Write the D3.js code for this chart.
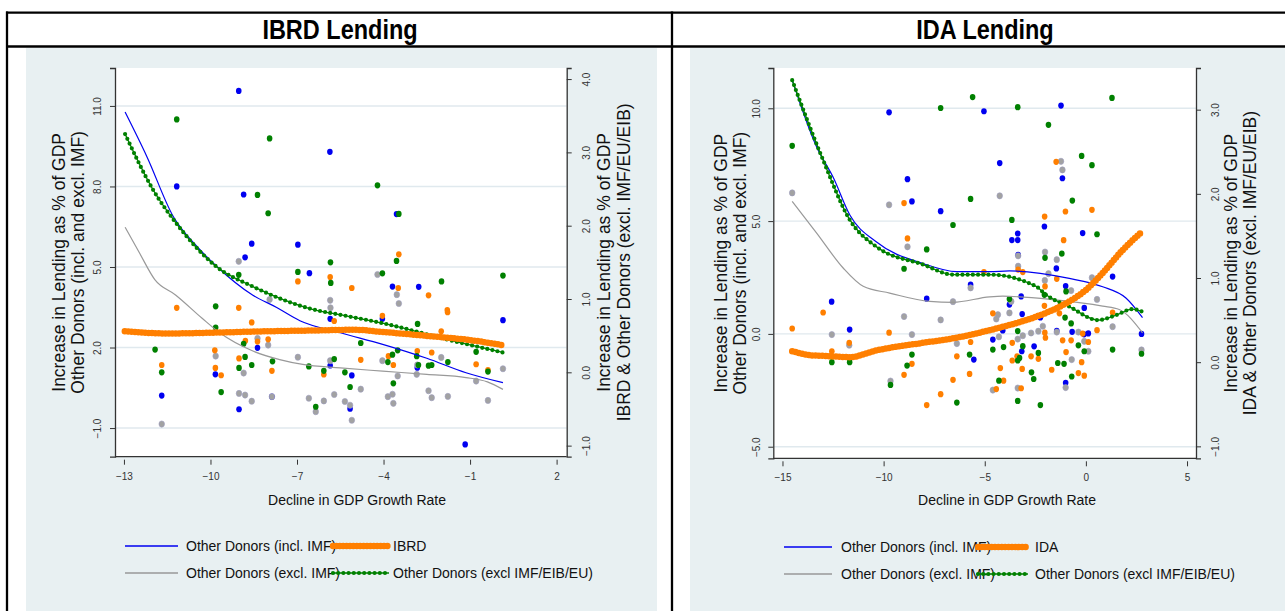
<!DOCTYPE html>
<html><head><meta charset="utf-8">
<script src="https://cdn.jsdelivr.net/npm/d3@7"></script>
<style>
body{margin:0;background:#fff;}
svg{display:block;font-family:"Liberation Sans",Arial,sans-serif;}
</style></head><body>
<svg id="c" width="1285" height="611"></svg>
<script>
// ---------------- DATA ----------------
const panelTitles = ["IBRD Lending", "IDA Lending"];
const xAxisTitle = "Decline in GDP Growth Rate";
const leftAxisTitle = ["Increase in Lending as % of GDP", "Other Donors (incl. and excl. IMF)"];
const ibrdRightTitle = ["Increase in Lending as % of GDP", "IBRD & Other Donors (excl. IMF/EU/EIB)"];
const idaRightTitle = ["Increase in Lending as % of GDP", "IDA & Other Donors (excl. IMF/EU/EIB)"];
const ibrdLegend = ["Other Donors (incl. IMF)", "IBRD", "Other Donors (excl. IMF)", "Other Donors (excl IMF/EIB/EU)"];
const idaLegend = ["Other Donors (incl. IMF)", "IDA", "Other Donors (excl. IMF)", "Other Donors (excl IMF/EIB/EU)"];

const ibrdXTicks = [-13, -10, -7, -4, -1, 2];
const ibrdYLTicks = [-1, 2, 5, 8, 11];
const ibrdYRTicks = [-1, 0, 1, 2, 3, 4];
const idaXTicks = [-15, -10, -5, 0, 5];
const idaYLTicks = [-5, 0, 5, 10];
const idaYRTicks = [-1, 0, 1, 2, 3];

// IBRD panel scatter (x = decline in GDP growth, y = lending % GDP)
const ibrdInclPts = [[-9.02,11.56],[-11.17,8.0],[-8.85,7.70],[-8.57,5.87],[-6.97,5.83],[-8.80,5.36],[-6.57,4.77],[-5.86,9.29],[-3.55,6.97],[-3.69,4.27],[-2.78,4.26],[-5.85,3.07],[-4.04,3.07],[0.14,3.02],[-8.37,1.99],[-9.83,1.0],[-11.69,0.21],[-7.87,0.17],[-9.01,-0.30],[-5.16,-0.28],[-5.10,0.96],[-5.85,1.33],[-2.83,1.25],[-1.17,-1.61]];
const ibrdExclPts = [[-9.02,5.21],[-7.95,3.79],[-4.21,4.72],[-3.54,3.97],[-5.85,3.76],[-3.47,3.64],[-5.84,3.48],[-8.37,2.34],[-8.0,2.09],[-9.82,1.68],[-6.97,1.64],[-8.85,1.05],[-9.01,0.29],[-8.80,0.23],[-7.87,0.17],[-6.59,0.11],[-8.57,0.0],[-11.69,-0.85],[-6.35,-0.39],[-2.0,1.63],[-4.04,1.51],[-5.85,1.51],[-2.83,1.35],[0.14,1.21],[-3.51,0.94],[-2.85,1.0],[-0.79,0.75],[-4.79,0.45],[-2.44,0.39],[-5.71,0.25],[-3.85,0.17],[-3.69,0.26],[-2.33,0.13],[-1.77,0.18],[-6.07,0.01],[-5.34,-0.01],[-0.38,0.03],[-3.66,-0.08],[-5.16,-0.15],[-5.10,-0.71]];
const ibrdOwnPts = [[-6.97,1.24],[-11.17,0.88],[-9.02,0.88],[-3.47,1.61],[-5.85,1.30],[-5.10,1.15],[-3.49,1.15],[-2.44,1.05],[-1.79,0.85],[-8.57,0.68],[-8.79,0.43],[-8.37,0.42],[-8.0,0.45],[-9.85,0.30],[-9.01,0.19],[-11.69,0.10],[-9.83,0.06],[-7.87,0.02],[-9.63,-0.04],[-5.71,0.70],[-4.04,0.77],[-1.78,0.82],[-2.0,0.56],[-2.83,0.29],[-2.33,0.27],[-3.83,0.22],[-4.79,0.17],[-3.66,0.10],[-0.79,0.11],[-0.38,0.03],[-6.07,-0.03]];
const ibrdExclEUPts = [[-11.17,3.45],[-7.95,3.19],[-8.37,2.42],[-8.0,2.17],[-9.02,1.33],[-6.97,1.37],[-9.82,0.90],[-4.21,2.55],[-3.47,2.16],[-5.84,1.50],[-3.55,1.52],[-4.04,1.35],[0.14,1.32],[-5.83,1.22],[-1.99,1.24],[-9.82,0.61],[-8.85,0.39],[-11.92,0.31],[-8.80,0.21],[-7.85,0.15],[-8.57,0.10],[-9.01,0.06],[-6.59,0.08],[-11.69,0.0],[-9.63,-0.27],[-6.35,-0.47],[-2.82,0.66],[-4.79,0.40],[-3.51,0.30],[-0.79,0.28],[-3.69,0.24],[-2.85,0.22],[-1.77,0.14],[-5.71,0.18],[-3.85,0.14],[-2.79,0.10],[-2.44,0.09],[-2.33,0.10],[-0.38,0.01],[-6.07,0.02],[-5.34,0.0],[-3.66,-0.15],[-5.16,-0.20]];
// IBRD panel smoothed fits
const ibrdInclFit = [[-12.96,10.77],[-12.2,9.1],[-11.29,6.88],[-10.5,5.8],[-9.79,5.03],[-8.53,3.95],[-7.72,3.5],[-6.9,3.0],[-5.5,2.55],[-4.03,2.12],[-2.5,1.6],[-1.14,1.06],[0.14,0.69]];
const ibrdExclFit = [[-12.96,6.48],[-12.45,5.5],[-11.93,4.53],[-11.2,3.95],[-10.3,3.1],[-9.68,2.55],[-8.53,1.87],[-7.6,1.55],[-6.8,1.37],[-5.5,1.24],[-4.03,1.12],[-2.5,1.0],[-1.14,0.88],[-0.4,0.72],[0.14,0.44]];
const ibrdOwnFit = [[-12.97,0.56],[-11.5,0.53],[-10,0.54],[-8,0.56],[-6.5,0.57],[-5,0.58],[-4.03,0.55],[-2.3,0.49],[-1,0.44],[0.14,0.37]];
const ibrdExclEUFit = [[-12.96,3.25],[-11.99,2.49],[-11.18,2.03],[-9.79,1.44],[-8.53,1.17],[-6.56,0.87],[-5.3,0.77],[-4.03,0.67],[-1.72,0.44],[0.14,0.27]];

// IDA panel scatter
const idaInclPts = [[-9.73,9.82],[-5.04,9.87],[-8.82,6.86],[-8.60,5.87],[-7.18,5.44],[-5.70,2.18],[-7.87,1.56],[-12.57,1.43],[-11.68,0.19],[-5.54,-1.14],[-1.23,10.12],[-4.26,7.57],[-1.16,6.90],[-2.05,4.76],[-0.16,4.47],[-3.37,4.45],[-3.66,4.16],[-3.37,4.16],[-3.35,3.5],[-1.46,2.90],[1.32,2.54],[-1.0,2.12],[-3.20,1.66],[-3.78,1.30],[-3.15,0.88],[-2.25,0.73],[-4.11,0.15],[-4.60,-0.25],[-3.17,-0.77],[-2.56,-0.55],[-1.44,0.13],[-0.68,0.09],[-1.0,-2.17],[-0.09,-0.02],[0.12,0.02],[2.75,0.0],[-0.08,1.15]];
const idaExclPts = [[-14.52,6.25],[-9.73,5.72],[-8.82,3.86],[-5.70,2.04],[-6.57,1.43],[-12.56,-0.03],[-11.70,-0.50],[-8.99,0.77],[-7.18,0.62],[-8.60,-0.03],[-6.38,-0.43],[-9.66,-2.09],[-1.23,7.65],[-1.16,7.27],[-4.26,6.12],[-3.35,3.46],[-2.02,3.63],[-1.44,3.29],[-3.35,3.0],[-1.85,2.67],[0.30,2.49],[-2.03,2.37],[-0.73,1.92],[0.55,1.53],[-4.35,0.85],[-4.43,0.66],[-3.78,0.93],[-2.13,0.34],[-4.30,-0.13],[-3.37,-0.23],[-3.12,-0.08],[-2.71,0.04],[-2.35,0.12],[-4.60,-2.49],[-3.37,-2.40],[-1.44,0.08],[-0.70,-1.14],[-1.0,-2.38],[-0.37,0.08],[-0.08,-0.33],[0.12,-0.77],[1.32,0.32],[2.75,-0.71],[-3.69,1.44]];
const idaOwnPts = [[-8.99,1.89],[-8.82,1.47],[-5.04,1.07],[-14.52,0.40],[-12.99,0.59],[-11.70,0.23],[-12.56,0.13],[-9.73,0.35],[-5.70,0.24],[-6.38,0.07],[-8.60,-0.02],[-8.99,-0.15],[-6.57,-0.21],[-5.75,-0.14],[-7.18,-0.38],[-7.87,-0.51],[-1.47,2.38],[0.30,1.81],[-1.01,1.79],[-2.04,1.73],[-1.10,1.45],[-3.35,1.10],[-3.12,1.07],[-1.44,0.99],[-2.02,0.90],[-4.60,0.58],[-3.64,0.23],[-2.03,0.35],[-2.0,0.29],[-2.71,0.07],[-2.35,0.04],[-3.40,0.07],[-3.15,-0.08],[-3.64,0.02],[-4.07,-0.22],[-4.23,-0.07],[-4.43,-0.32],[-3.20,-0.31],[-1.69,-0.09],[-0.98,0.12],[-1.15,0.26],[-0.73,0.26],[-0.37,-0.13],[-0.21,0.0],[-0.08,-0.16],[-0.16,0.34],[0.12,0.24],[0.55,0.38],[1.32,0.59],[-2.05,0.67],[-1.31,0.58]];
const idaExclEUPts = [[-14.52,2.57],[-7.18,3.02],[-5.60,3.15],[-5.70,1.94],[-6.57,1.63],[-7.87,1.34],[-8.99,1.11],[-12.56,0.0],[-11.68,0.0],[-8.60,0.09],[-5.75,0.09],[-8.84,-0.04],[-9.66,-0.27],[-6.38,-0.48],[1.29,3.14],[-3.37,3.03],[-1.85,2.82],[-0.21,2.45],[0.30,2.34],[-0.67,1.92],[-3.66,1.69],[0.55,1.52],[-2.02,1.24],[-1.19,1.29],[-0.98,0.84],[-3.78,0.75],[-4.60,0.15],[-4.07,0.18],[-3.37,0.37],[-3.12,0.19],[-2.35,0.11],[-3.28,0.05],[-3.37,0.02],[-4.30,-0.22],[-3.37,-0.46],[-2.69,-0.12],[-2.58,-0.20],[-2.25,-0.51],[-1.39,-0.01],[-1.08,-0.02],[-0.70,-0.17],[-0.37,0.20],[-0.08,0.13],[1.32,0.15],[2.75,0.10],[-2.05,0.80],[-1.03,0.53],[-0.73,0.46]];
// IDA panel smoothed fits
const idaInclFit = [[-14.52,11.25],[-13.31,8.28],[-12.5,6.95],[-11.67,5.27],[-10.35,4.07],[-8.05,3.12],[-6.40,2.76],[-4.76,2.76],[-3.78,2.79],[-0.82,2.46],[0.83,2.09],[1.98,1.59],[2.80,0.72]];
const idaExclFit = [[-14.52,5.87],[-13.31,4.47],[-12.0,2.92],[-11.01,2.11],[-9.70,1.81],[-7.72,1.44],[-6.57,1.40],[-4.76,1.64],[-4.11,1.67],[-1.64,1.52],[0.83,1.23],[1.65,1.08],[2.80,0.05]];
const idaOwnFit = [[-14.52,0.13],[-13.5,0.08],[-12.99,0.075],[-11.67,0.06],[-10.35,0.14],[-8.05,0.23],[-6.41,0.29],[-5.09,0.36],[-4.11,0.42],[-2.46,0.54],[-0.98,0.70],[0.01,0.86],[0.83,1.06],[1.81,1.33],[2.72,1.54]];
const idaExclEUFit = [[-14.52,3.35],[-12.99,2.40],[-11.67,1.69],[-10.35,1.37],[-8.05,1.16],[-6.57,1.04],[-4.76,1.04],[-2.46,0.90],[-1.97,0.80],[-0.82,0.66],[0.6,0.50],[1.5,0.56],[2.3,0.63],[2.80,0.60]];

// ---------------- STYLE / LAYOUT ----------------
const C = {blue:"#0000f0", grey:"#a2a2a2", orange:"#ff7f00", green:"#008000", bg:"#e8f0f2", grid:"#e0e9ee", axis:"#333"};
const svg = d3.select("#c");

function vtext(x, y, txt, size) {
  svg.append("text").attr("transform", `translate(${x},${y}) rotate(-90)`)
    .attr("text-anchor", "middle").attr("dy", "0.35em")
    .style("font-size", size + "px").attr("fill", "#111").text(txt);
}

function drawPanel(p) {
  svg.append("rect").attr("x", p.bgX0).attr("y", 48).attr("width", p.bgX1 - p.bgX0).attr("height", 611 - 48).attr("fill", C.bg);
  const x = d3.scaleLinear().domain(p.xDomain).range([p.left, p.right]);
  const yL = d3.scaleLinear().domain(p.yLDomain).range([p.bottom, p.top]);
  const yR = d3.scaleLinear().domain(p.yRDomain).range([p.bottom, p.top]);
  svg.append("rect").attr("x", p.left).attr("y", p.top).attr("width", p.right - p.left).attr("height", p.bottom - p.top).attr("fill", "#fff");
  // gridlines
  svg.append("g").selectAll("line").data(p.yLTicks).join("line")
    .attr("x1", p.left).attr("x2", p.right).attr("y1", d => yL(d)).attr("y2", d => yL(d))
    .attr("stroke", C.grid).attr("stroke-width", 1.4);
  // scatter
  const dots = (data, sy, col, stroke) => svg.append("g").selectAll("ellipse").data(data).join("ellipse")
    .attr("cx", d => x(d[0])).attr("cy", d => sy(d[1])).attr("rx", 2.8).attr("ry", 3.1)
    .attr("fill", col).attr("stroke", stroke || "none").attr("stroke-width", 0.6);
  dots(p.incl, yL, C.blue);
  dots(p.excl, yL, C.grey, "#9c9cc0");
  dots(p.own, yR, C.orange);
  dots(p.exEU, yR, C.green);
  // fits
  const lineL = d3.line().x(d => x(d[0])).y(d => yL(d[1])).curve(d3.curveMonotoneX);
  const lineR = d3.line().x(d => x(d[0])).y(d => yR(d[1])).curve(d3.curveMonotoneX);
  svg.append("path").attr("d", lineL(p.inclFit)).attr("fill", "none").attr("stroke", C.blue).attr("stroke-width", 1.2);
  svg.append("path").attr("d", lineL(p.exclFit)).attr("fill", "none").attr("stroke", "#999").attr("stroke-width", 1.2);
  svg.append("path").attr("d", lineR(p.exEUFit)).attr("fill", "none").attr("stroke", C.green).attr("stroke-width", 1.3);
  svg.append("path").attr("d", lineR(p.exEUFit)).attr("fill", "none").attr("stroke", C.green).attr("stroke-width", 4.2)
    .attr("stroke-linecap", "round").attr("stroke-dasharray", "0 5.2");
  svg.append("path").attr("d", lineR(p.ownFit)).attr("fill", "none").attr("stroke", C.orange).attr("stroke-width", 4);
  svg.append("path").attr("d", lineR(p.ownFit)).attr("fill", "none").attr("stroke", C.orange).attr("stroke-width", 6.5)
    .attr("stroke-linecap", "round").attr("stroke-dasharray", "0 3.4");
  // bottom border of plot
  svg.append("line").attr("x1", p.left).attr("x2", p.right).attr("y1", p.bottom).attr("y2", p.bottom).attr("stroke", C.axis).attr("stroke-width", 1.3);
  // axes
  const styleAxis = g => {
    g.selectAll(".domain").attr("stroke", C.axis).attr("stroke-width", 1.3);
    g.selectAll(".tick line").attr("stroke", C.axis).attr("stroke-width", 1);
    g.selectAll("text").style("font-size", "10px").attr("fill", "#333").style("font-family", '"Liberation Sans",Arial,sans-serif');
  };
  const ax = svg.append("g").attr("transform", `translate(0,${p.bottom + 3})`)
    .call(d3.axisBottom(x).tickValues(p.xTicks).tickSize(5).tickPadding(8).tickFormat(d3.format("d")));
  ax.select(".domain").remove(); styleAxis(ax);
  const al = svg.append("g").attr("transform", `translate(${p.left},0)`)
    .call(d3.axisLeft(yL).tickValues(p.yLTicks).tickSize(5).tickFormat(d3.format(".1f")));
  styleAxis(al);
  al.selectAll(".tick text").attr("x", null).attr("dy", "0.35em").attr("text-anchor", "middle")
    .attr("transform", `translate(${p.lblL},0) rotate(-90)`);
  const ar = svg.append("g").attr("transform", `translate(${p.right},0)`)
    .call(d3.axisRight(yR).tickValues(p.yRTicks).tickSize(5).tickFormat(d3.format(".1f")));
  styleAxis(ar);
  ar.selectAll(".tick text").attr("x", null).attr("dy", "0.35em").attr("text-anchor", "middle")
    .attr("transform", `translate(${p.lblR},0) rotate(-90)`);
  // axis titles
  svg.append("text").attr("x", p.xTitleX).attr("y", 505).attr("text-anchor", "middle")
    .style("font-size", "14px").attr("fill", "#111").text(xAxisTitle);
  const cy = (p.top + p.bottom) / 2;
  vtext(p.tL[0], cy, leftAxisTitle[0], 17.5);
  vtext(p.tL[1], cy, leftAxisTitle[1], 17.5);
  vtext(p.tR[0], cy, p.rightTitle[0], 17.5);
  vtext(p.tR[1], cy, p.rightTitle[1], 17.5);
  // legend
  const lg = p.legend, L = p.leg;
  [[0, L.y1], [2, L.y2]].forEach(([i, yy]) => svg.append("text").attr("x", L.t1).attr("y", yy + 5).style("font-size", "14px").attr("fill", "#111").text(lg[i]));
  [[1, L.y1], [3, L.y2]].forEach(([i, yy]) => svg.append("text").attr("x", L.t2).attr("y", yy + 5).style("font-size", "14px").attr("fill", "#111").text(lg[i]));
  svg.append("line").attr("x1", L.a0).attr("x2", L.a1).attr("y1", L.y1).attr("y2", L.y1).attr("stroke", C.blue).attr("stroke-width", 1.3);
  svg.append("line").attr("x1", L.a0).attr("x2", L.a1).attr("y1", L.y2).attr("y2", L.y2).attr("stroke", "#999").attr("stroke-width", 1.3);
  svg.append("line").attr("x1", L.b0).attr("x2", L.b1).attr("y1", L.y1).attr("y2", L.y1).attr("stroke", C.orange).attr("stroke-width", 4);
  svg.append("line").attr("x1", L.b0).attr("x2", L.b1).attr("y1", L.y1).attr("y2", L.y1).attr("stroke", C.orange).attr("stroke-width", 6.5).attr("stroke-linecap", "round").attr("stroke-dasharray", "0 3.4");
  svg.append("line").attr("x1", L.b0).attr("x2", L.b1).attr("y1", L.y2).attr("y2", L.y2).attr("stroke", C.green).attr("stroke-width", 1.3);
  svg.append("line").attr("x1", L.b0).attr("x2", L.b1).attr("y1", L.y2).attr("y2", L.y2).attr("stroke", C.green).attr("stroke-width", 4.2).attr("stroke-linecap", "round").attr("stroke-dasharray", "0 5.2");
  // panel title
  svg.append("text").attr("transform", `translate(${p.titleX},39) scale(0.87,1)`).attr("text-anchor", "middle")
    .style("font-weight", "bold").style("font-size", "27px").attr("fill", "#000").text(p.title);
}

drawPanel({
  title: panelTitles[0], titleX: 340, bgX0: 26, bgX1: 657, xTitleX: 357,
  left: 115, right: 566.7, top: 68, bottom: 456.7,
  xDomain: [-13.31, 2.35], yLDomain: [-2.067, 12.413], yRDomain: [-1.151, 4.151],
  xTicks: ibrdXTicks, yLTicks: ibrdYLTicks, yRTicks: ibrdYRTicks,
  lblL: -18, lblR: 19.5, tL: [59, 78], tR: [604, 624], rightTitle: ibrdRightTitle,
  incl: ibrdInclPts, excl: ibrdExclPts, own: ibrdOwnPts, exEU: ibrdExclEUPts,
  inclFit: ibrdInclFit, exclFit: ibrdExclFit, ownFit: ibrdOwnFit, exEUFit: ibrdExclEUFit,
  legend: ibrdLegend,
  leg: {y1: 546, y2: 573, a0: 125, a1: 178, t1: 186, b0: 333, b1: 389, t2: 393}
});
drawPanel({
  title: panelTitles[1], titleX: 985, bgX0: 690, bgX1: 1285, xTitleX: 1007,
  left: 773.3, right: 1196, top: 68, bottom: 458.3,
  xDomain: [-15.454, 5.444], yLDomain: [-5.514, 11.786], yRDomain: [-1.142, 3.495],
  xTicks: idaXTicks, yLTicks: idaYLTicks, yRTicks: idaYRTicks,
  lblL: -17, lblR: 19, tL: [721, 740], tR: [1231, 1250], rightTitle: idaRightTitle,
  incl: idaInclPts, excl: idaExclPts, own: idaOwnPts, exEU: idaExclEUPts,
  inclFit: idaInclFit, exclFit: idaExclFit, ownFit: idaOwnFit, exEUFit: idaExclEUFit,
  legend: idaLegend,
  leg: {y1: 547, y2: 574, a0: 784, a1: 832, t1: 841, b0: 978, b1: 1028, t2: 1035}
});

// table frame
const frame = svg.append("g").attr("stroke", "#000").attr("stroke-width", 2.3);
frame.append("line").attr("x1", 6).attr("x2", 1285).attr("y1", 12.7).attr("y2", 12.7);
frame.append("line").attr("x1", 6).attr("x2", 1285).attr("y1", 46.5).attr("y2", 46.5);
frame.append("line").attr("x1", 7).attr("x2", 7).attr("y1", 11.5).attr("y2", 611);
frame.append("line").attr("x1", 672).attr("x2", 672).attr("y1", 11.5).attr("y2", 611);
</script>
</body></html>
